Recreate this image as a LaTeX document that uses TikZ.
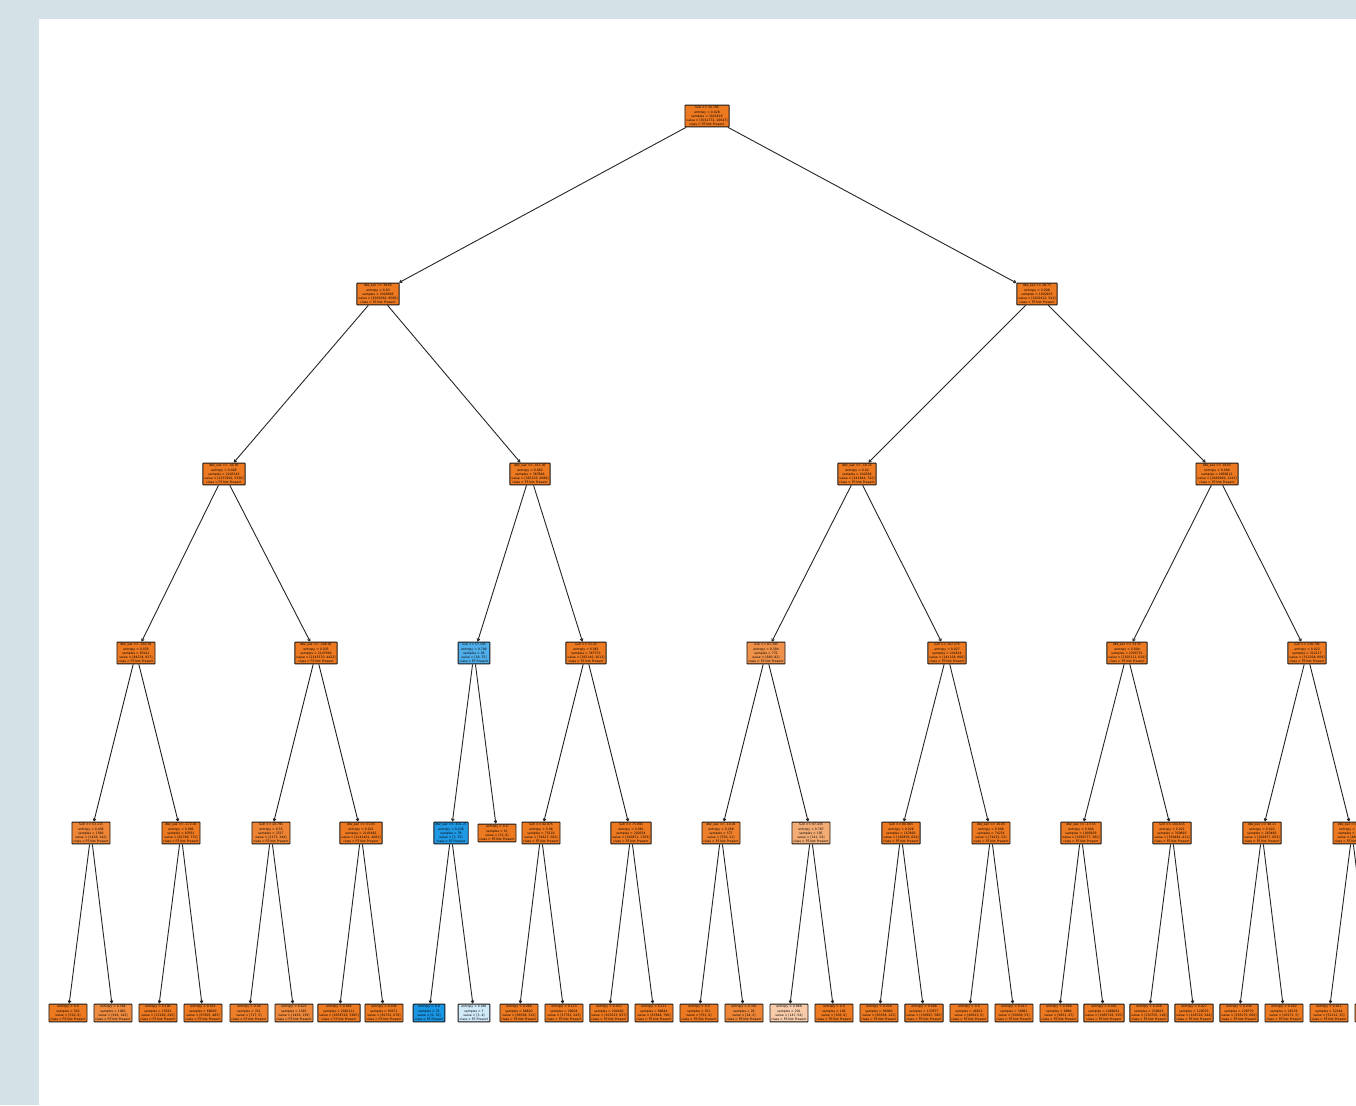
\documentclass[tikz,border=0pt]{standalone}
\usepackage{fontspec}
\newfontfamily\tfont{DejaVu Sans}
\usetikzlibrary{arrows.meta}
\definecolor{bgc}{RGB}{212,225,230}
\definecolor{ora}{RGB}{237,121,33}
\definecolor{blu}{RGB}{25,150,228}
\newcommand\np{FE Not Present}
\newcommand\pr{FE Present}
\newcommand\Spl[5]{#1\\entropy = #2\\samples = #3\\value = [#4]\\class = #5}
\newcommand\Lf[4]{entropy = #1\\samples = #2\\value = [#3]\\class = #4}
\begin{document}
\begin{tikzpicture}[x=1pt,y=-1pt,
  nd/.style={draw=black!90, line width=0.9pt, rounded corners=0.5pt, inner sep=1.5pt,
    align=center, fill=ora, font={\tfont\fontsize{3.1}{4.1}\selectfont}},
  edge/.style={line width=0.9pt, draw=black!85, -{Straight Barb[length=2.2pt,width=2.8pt]}}]
\useasboundingbox (0,0) rectangle (1356,1105);
\clip (0,0) rectangle (1356,1105);
\fill[bgc] (0,0) rectangle (1356,1105);
\fill[white] (39,19) rectangle (1356,1105);
% depth 0
\node[nd] (t) at (707,116) {\Spl{S20 <= 30.785}{0.028}{3021819}{3011772, 10047}{\np}};
% depth 1
\node[nd] (t0) at (378,294) {\Spl{dbz\_sez <= 38.65}{0.03}{2018866}{2009360, 9506}{\np}};
\node[nd] (t1) at (1037,294) {\Spl{dbz\_sez <= 28.75}{0.008}{1002953}{1002412, 541}{\np}};
% depth 2
\node[nd] (t00) at (224,474) {\Spl{dbz\_sez <= -40.95}{0.028}{2243143}{2237602, 5336}{\np}};
\node[nd] (t01) at (530,474) {\Spl{dbz\_sez <= -411.05}{0.062}{367846}{365156, 2689}{\np}};
\node[nd] (t10) at (857,474) {\Spl{dbz\_sez <= -58.35}{0.02}{242586}{241844, 742}{\np}};
\node[nd] (t11) at (1217,474) {\Spl{dbz\_sez <= 19.65}{0.006}{2668212}{2666969, 1243}{\np}};
% depth 3
\node[nd] (t000) at (136,653) {\Spl{dbz\_sez <= -202.05}{0.078}{85141}{84234, 917}{\np}};
\node[nd] (t001) at (316,653) {\Spl{dbz\_sez <= -248.05}{0.033}{2147999}{2143570, 4422}{\np}};
\node[nd, fill=blu!76!white] (t010) at (474,653) {\Spl{S20 <= 57.595}{0.709}{93}{18, 75}{\pr}};
\node[nd] (t011) at (586,653) {\Spl{S20 <= 51.25}{0.061}{367753}{365140, 2613}{\np}};
\node[nd, fill=ora!82!white] (t100) at (766,653) {\Spl{S20 <= 81.395}{0.304}{772}{690, 82}{\np}};
\node[nd] (t101) at (947,653) {\Spl{S20 <= 107.575}{0.027}{241824}{241158, 666}{\np}};
\node[nd] (t110) at (1127,653) {\Spl{dbz\_sez <= 13.35}{0.004}{2305731}{2305111, 620}{\np}};
\node[nd] (t111) at (1307,653) {\Spl{S20 <= 138.795}{0.022}{312117}{311508, 609}{\np}};
% depth 4
\node[nd, fill=ora!90!white] (t0000) at (91,833) {\Spl{S20 <= 53.115}{0.436}{1580}{1438, 142}{\np}};
\node[nd] (t0001) at (181,833) {\Spl{dbz\_sez <= -172.05}{0.066}{83561}{82796, 775}{\np}};
\node[nd, fill=ora!92!white] (t0010) at (271,833) {\Spl{S20 <= 10.795}{0.55}{2517}{2173, 344}{\np}};
\node[nd] (t0011) at (361,833) {\Spl{dbz\_sez <= 51.05}{0.021}{2145482}{2141401, 4081}{\np}};
\node[nd, fill=blu!97!white] (t0100) at (451,833) {\Spl{dbz\_sez <= -631.75}{0.236}{78}{3, 75}{\pr}};
\node[nd] (t0101) at (497,833) {\Lf{0.0}{15}{15, 0}{\np}};
\node[nd] (t0110) at (541,833) {\Spl{S20 <= 42.875}{0.06}{75119}{74617, 502}{\np}};
\node[nd] (t0111) at (631,833) {\Spl{S20 <= 75.695}{0.061}{292634}{290871, 1763}{\np}};
\node[nd, fill=ora!95!white] (t1000) at (721,833) {\Spl{dbz\_sez <= -10.45}{0.268}{577}{556, 21}{\np}};
\node[nd, fill=ora!62!white] (t1001) at (811,833) {\Spl{S20 <= 97.435}{0.787}{195}{141, 54}{\np}};
\node[nd] (t1010) at (901,833) {\Spl{S20 <= 80.465}{0.026}{167460}{166836, 624}{\np}};
\node[nd] (t1011) at (991,833) {\Spl{dbz\_sez <= 16.05}{0.006}{74274}{74222, 52}{\np}};
\node[nd] (t1100) at (1081,833) {\Spl{dbz\_sez <= -13.55}{0.004}{1995959}{1995577, 382}{\np}};
\node[nd] (t1101) at (1172,833) {\Spl{S20 <= 104.615}{0.021}{359893}{359482, 411}{\np}};
\node[nd] (t1110) at (1262,833) {\Spl{dbz\_sez <= 48.15}{0.022}{263480}{262877, 603}{\np}};
\node[nd] (t1111) at (1352,833) {\Spl{dbz\_sez <= 30.75}{0.012}{48637}{48631, 6}{\np}};
% depth 5
\node[nd] (t00000) at (68,1013) {\Lf{0.0}{520}{520, 0}{\np}};
\node[nd, fill=ora!86!white] (t00001) at (113,1013) {\Lf{0.568}{1060}{918, 142}{\np}};
\node[nd] (t00010) at (158,1013) {\Lf{0.106}{15561}{15269, 292}{\np}};
\node[nd] (t00011) at (203,1013) {\Lf{0.053}{68000}{67605, 483}{\np}};
\node[nd, fill=ora!96!white] (t00100) at (249,1013) {\Lf{0.06}{722}{717, 5}{\np}};
\node[nd, fill=ora!88!white] (t00101) at (294,1013) {\Lf{0.623}{1595}{1456, 139}{\np}};
\node[nd] (t00110) at (339,1013) {\Lf{0.018}{2062111}{2058726, 3385}{\np}};
\node[nd] (t00111) at (384,1013) {\Lf{0.038}{83371}{82701, 670}{\np}};
\node[nd, fill=blu] (t01000) at (429,1013) {\Lf{0.0}{72}{0, 72}{\pr}};
\node[nd, fill=blu!20!white] (t01001) at (474,1013) {\Lf{0.985}{7}{3, 4}{\pr}};
\node[nd] (t01100) at (519,1013) {\Lf{0.066}{66820}{66508, 312}{\np}};
\node[nd] (t01101) at (564,1013) {\Lf{0.123}{28004}{27761, 243}{\np}};
\node[nd] (t01110) at (609,1013) {\Lf{0.052}{204160}{203223, 937}{\np}};
\node[nd] (t01111) at (654,1013) {\Lf{0.111}{88644}{87848, 796}{\np}};
\node[nd] (t10000) at (699,1013) {\Lf{0.0}{551}{551, 0}{\np}};
\node[nd, fill=ora!90!white] (t10001) at (744,1013) {\Lf{0.391}{26}{24, 2}{\np}};
\node[nd, fill=ora!38!white] (t10010) at (789,1013) {\Lf{0.968}{201}{147, 54}{\np}};
\node[nd] (t10011) at (834,1013) {\Lf{0.0}{166}{166, 0}{\np}};
\node[nd] (t10100) at (879,1013) {\Lf{0.026}{96060}{95938, 122}{\np}};
\node[nd] (t10101) at (924,1013) {\Lf{0.008}{137877}{136697, 580}{\np}};
\node[nd] (t10110) at (969,1013) {\Lf{0.0}{46613}{46613, 0}{\np}};
\node[nd] (t10111) at (1014,1013) {\Lf{0.013}{30661}{30608, 53}{\np}};
\node[nd] (t11000) at (1059,1013) {\Lf{0.090}{9898}{9851, 47}{\np}};
\node[nd] (t11001) at (1104,1013) {\Lf{0.001}{1986061}{1985726, 335}{\np}};
\node[nd] (t11010) at (1149,1013) {\Lf{0.028}{230823}{230705, 118}{\np}};
\node[nd] (t11011) at (1194,1013) {\Lf{0.027}{129070}{128726, 344}{\np}};
\node[nd] (t11100) at (1239,1013) {\Lf{0.036}{236770}{236170, 600}{\np}};
\node[nd] (t11101) at (1284,1013) {\Lf{0.002}{26176}{26171, 5}{\np}};
\node[nd] (t11110) at (1329,1013) {\Lf{0.011}{52144}{52112, 32}{\np}};
\node[nd] (t11111) at (1374,1013) {\Lf{0.0}{6493}{6493, 0}{\np}};
% edges
\foreach \p in {t,t0,t1,t00,t01,t10,t11,t000,t001,t010,t011,t100,t101,t110,t111,
  t0000,t0001,t0010,t0011,t0100,t0110,t0111,t1000,t1001,t1010,t1011,t1100,t1101,t1110,t1111}{
  \draw[edge] (\p) -- (\p0);
  \draw[edge] (\p) -- (\p1);
}
\end{tikzpicture}
\end{document}
